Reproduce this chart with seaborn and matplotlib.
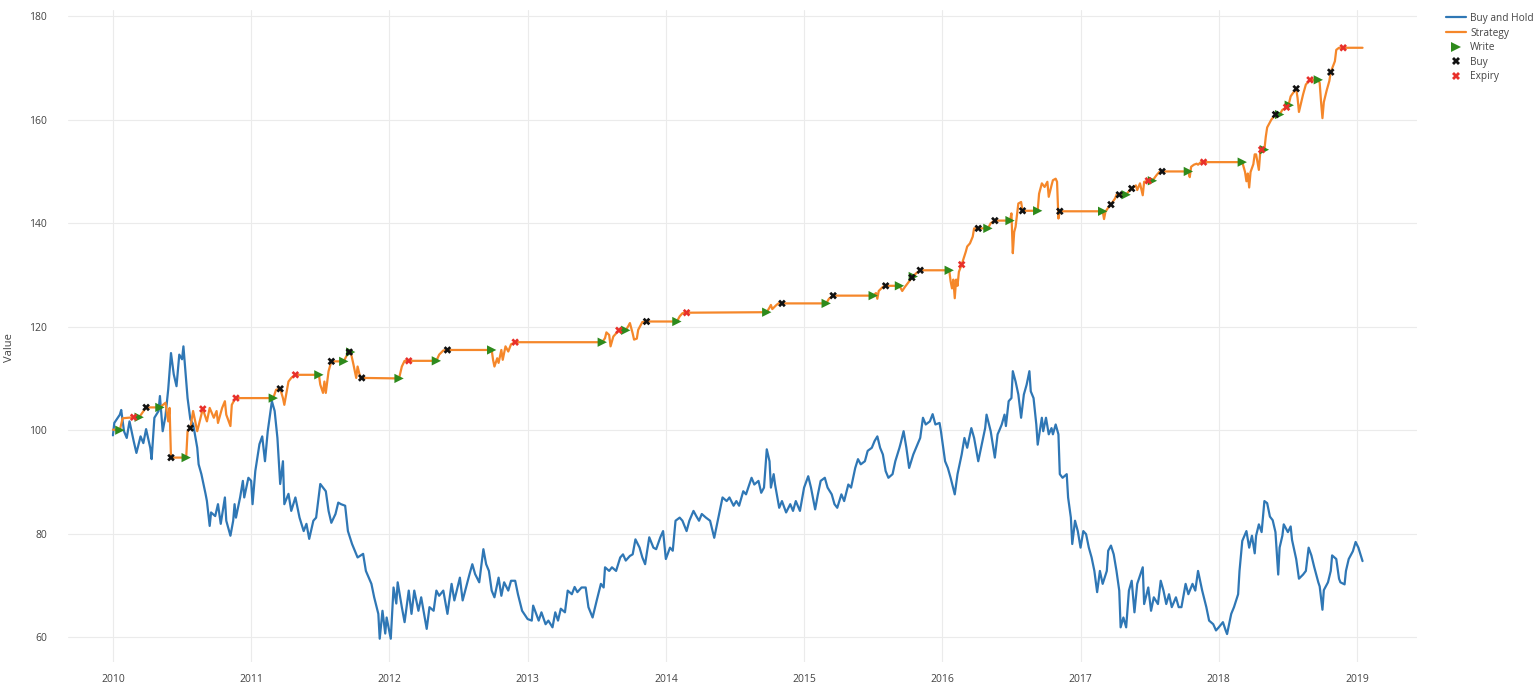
import matplotlib
matplotlib.use("Agg")
import matplotlib.pyplot as plt
import seaborn as sns
import pandas as pd
from matplotlib.lines import Line2D

# ---------------- data ----------------
bh_dates = [
    2010.00, 2010.01, 2010.05, 2010.06, 2010.08, 2010.10, 2010.12, 2010.15, 2010.17, 2010.20,
    2010.22, 2010.24, 2010.27, 2010.28, 2010.30, 2010.33, 2010.34, 2010.36, 2010.38, 2010.40,
    2010.42, 2010.44, 2010.46, 2010.48, 2010.50, 2010.51, 2010.53, 2010.54, 2010.56, 2010.58,
    2010.61, 2010.62, 2010.64, 2010.67, 2010.68, 2010.70, 2010.71, 2010.74, 2010.76, 2010.78,
    2010.81, 2010.82, 2010.85, 2010.87, 2010.88, 2010.89, 2010.92, 2010.94, 2010.95, 2010.98,
    2011.00, 2011.01, 2011.03, 2011.06, 2011.08, 2011.10, 2011.12, 2011.14, 2011.15, 2011.17,
    2011.19, 2011.21, 2011.23, 2011.24, 2011.27, 2011.29, 2011.32, 2011.34, 2011.35, 2011.38,
    2011.40, 2011.42, 2011.45, 2011.47, 2011.50, 2011.52, 2011.54, 2011.56, 2011.58, 2011.61,
    2011.63, 2011.65, 2011.68, 2011.70, 2011.73, 2011.75, 2011.77, 2011.81, 2011.83, 2011.87,
    2011.89, 2011.92, 2011.93, 2011.95, 2011.97, 2011.98, 2012.01,
    2012.03, 2012.05, 2012.06, 2012.09, 2012.11, 2012.14, 2012.16, 2012.18, 2012.21, 2012.23,
    2012.27, 2012.29, 2012.32, 2012.34, 2012.36, 2012.39, 2012.42, 2012.45, 2012.47, 2012.51,
    2012.53, 2012.58, 2012.60, 2012.62, 2012.65, 2012.68, 2012.70, 2012.72, 2012.74, 2012.76,
    2012.79, 2012.81, 2012.83, 2012.86, 2012.88, 2012.91, 2012.93, 2012.96, 2013.00, 2013.03,
    2013.04, 2013.08, 2013.10, 2013.13, 2013.15, 2013.18, 2013.20, 2013.22, 2013.24, 2013.27,
    2013.29, 2013.32, 2013.34, 2013.36, 2013.39, 2013.42, 2013.44, 2013.47, 2013.50, 2013.53,
    2013.55, 2013.56, 2013.59, 2013.61, 2013.64, 2013.67, 2013.69, 2013.71, 2013.74, 2013.76,
    2013.78, 2013.81, 2013.83, 2013.85, 2013.88, 2013.91, 2013.93, 2013.96, 2013.98, 2014.00,
    2014.03, 2014.05, 2014.07, 2014.10, 2014.12, 2014.15, 2014.17, 2014.20, 2014.22, 2014.24,
    2014.26, 2014.29, 2014.32, 2014.35, 2014.39, 2014.41, 2014.44, 2014.46, 2014.49, 2014.51,
    2014.53, 2014.56, 2014.58, 2014.62, 2014.64, 2014.67, 2014.69, 2014.71, 2014.73, 2014.75,
    2014.76, 2014.78, 2014.79, 2014.82, 2014.84, 2014.87, 2014.90, 2014.92, 2014.94, 2014.97,
    2015.00, 2015.03, 2015.05, 2015.08, 2015.10, 2015.12, 2015.15, 2015.17, 2015.20, 2015.22,
    2015.24, 2015.27, 2015.29, 2015.32, 2015.34, 2015.37, 2015.39, 2015.41, 2015.44, 2015.46,
    2015.49, 2015.51, 2015.53, 2015.55, 2015.57, 2015.59, 2015.61, 2015.64, 2015.66, 2015.69,
    2015.70, 2015.72, 2015.74, 2015.76, 2015.79, 2015.81, 2015.84, 2015.86, 2015.88, 2015.91,
    2015.93, 2015.95, 2015.98, 2015.99, 2016.02, 2016.04, 2016.06, 2016.09, 2016.11, 2016.14,
    2016.16, 2016.18, 2016.21, 2016.23, 2016.26, 2016.28, 2016.31, 2016.32, 2016.35, 2016.38,
    2016.40, 2016.41, 2016.43, 2016.45, 2016.46, 2016.48, 2016.50, 2016.51, 2016.53, 2016.55,
    2016.57, 2016.59, 2016.61, 2016.63, 2016.64, 2016.66, 2016.68, 2016.69, 2016.72, 2016.73,
    2016.75, 2016.77, 2016.79, 2016.80, 2016.82, 2016.84, 2016.85, 2016.87, 2016.90, 2016.91,
    2016.93, 2016.94, 2016.96, 2016.98, 2017.00, 2017.02, 2017.04, 2017.06, 2017.08, 2017.10,
    2017.12, 2017.14, 2017.16, 2017.19, 2017.20, 2017.22, 2017.24, 2017.26, 2017.28, 2017.29,
    2017.31, 2017.33, 2017.35, 2017.37, 2017.39, 2017.41, 2017.45, 2017.46, 2017.49, 2017.51,
    2017.53, 2017.56, 2017.58, 2017.60, 2017.62, 2017.64, 2017.66, 2017.69, 2017.71, 2017.73,
    2017.76, 2017.78, 2017.81, 2017.83, 2017.85, 2017.88, 2017.91, 2017.93, 2017.96, 2017.98,
    2018.00, 2018.03, 2018.05, 2018.06, 2018.09, 2018.11, 2018.14, 2018.15, 2018.17, 2018.20,
    2018.22, 2018.24, 2018.26, 2018.27, 2018.29, 2018.31, 2018.33, 2018.35, 2018.37, 2018.39,
    2018.41, 2018.43, 2018.44, 2018.46, 2018.47, 2018.50, 2018.52, 2018.53, 2018.56, 2018.58,
    2018.61, 2018.63, 2018.65, 2018.67, 2018.69, 2018.72, 2018.73, 2018.75, 2018.76, 2018.79,
    2018.81, 2018.82, 2018.85, 2018.87, 2018.88, 2018.91, 2018.92, 2018.94, 2018.97, 2018.99,
    2019.01, 2019.04,
]
bh_values = [
    99.0, 101.4, 103.0, 103.9, 99.8, 98.5, 101.7, 97.9, 95.6, 98.8,
    97.5, 100.2, 96.6, 94.4, 102.4, 103.7, 106.6, 99.8, 102.7, 107.9,
    114.9, 110.8, 108.5, 114.6, 113.7, 116.2, 109.4, 106.2, 102.1, 101.2,
    96.6, 93.4, 91.5, 87.7, 86.3, 81.5, 84.1, 83.4, 85.7, 81.9,
    87.0, 82.5, 79.6, 82.5, 85.7, 83.1, 87.0, 90.2, 87.0, 90.8,
    90.2, 85.7, 92.1, 97.3, 98.8, 94.0, 99.8, 103.7, 105.6, 103.7,
    98.5, 89.6, 94.0, 85.7, 87.7, 84.4, 87.0, 84.4, 83.1, 80.5,
    81.9, 79.0, 82.5, 83.1, 89.6, 88.9, 88.2, 84.4, 82.1, 83.8,
    86.0, 85.7, 85.4, 80.5, 78.0, 76.7, 75.4, 76.1, 72.8, 70.3,
    67.7, 64.5, 59.7, 65.1, 60.7, 63.8, 59.7,
    69.6, 66.5, 70.6, 65.8, 62.9, 69.0, 64.5, 69.0, 65.1, 67.7,
    61.6, 65.8, 65.1, 69.0, 68.0, 69.0, 64.5, 70.3, 67.1, 71.5,
    67.1, 72.2, 74.1, 72.2, 70.6, 77.0, 74.1, 72.8, 69.0, 67.7,
    71.5, 68.0, 70.6, 69.0, 70.9, 70.9, 68.3, 65.1, 63.5, 63.2,
    66.1, 63.2, 64.8, 62.5, 63.2, 61.9, 64.8, 63.2, 65.5, 64.8,
    69.0, 68.3, 69.7, 68.7, 69.6, 69.6, 65.8, 63.8, 67.1, 70.3,
    69.6, 73.5, 72.8, 73.5, 72.8, 75.4, 76.0, 74.8, 75.7, 76.0,
    78.9, 77.3, 75.4, 74.1, 79.3, 77.3, 77.0, 79.3, 80.5, 75.1,
    77.3, 76.7, 82.5, 83.1, 82.5, 80.5, 82.5, 84.4, 83.4, 82.5,
    83.8, 83.1, 82.5, 79.2, 84.4, 87.0, 86.3, 87.0, 85.4, 86.3,
    85.4, 88.2, 87.6, 90.8, 89.5, 90.2, 87.9, 88.9, 96.3, 94.0,
    88.9, 91.5, 89.5, 85.0, 86.3, 84.1, 85.7, 84.4, 86.3, 84.4,
    88.9, 91.1, 88.9, 84.7, 87.6, 90.2, 90.8, 88.9, 87.6, 85.7,
    85.0, 87.6, 86.3, 89.5, 88.9, 92.7, 94.4, 93.4, 94.0, 96.0,
    96.6, 97.9, 98.8, 96.6, 95.3, 92.1, 90.8, 91.5, 94.0, 96.6,
    97.6, 99.8, 96.6, 92.7, 95.3, 96.6, 98.5, 102.4, 101.1, 101.7,
    103.1, 101.1, 101.4, 99.8, 94.0, 92.7, 90.8, 87.6, 91.5, 95.3,
    98.5, 96.6, 100.4, 98.5, 94.0, 96.6, 100.4, 103.0, 99.8, 94.7,
    99.2, 99.8, 101.1, 103.0, 100.8, 105.6, 106.2, 111.4, 109.4, 106.9,
    102.4, 106.9, 108.8, 111.4, 107.5, 106.2, 101.1, 97.2, 102.4, 99.8,
    102.4, 99.2, 100.4, 99.2, 101.1, 99.2, 91.5, 90.8, 91.5, 87.0,
    83.1, 78.0, 82.5, 80.5, 77.3, 80.5, 79.9, 77.3, 75.4, 72.8,
    68.7, 72.8, 70.3, 72.8, 76.7, 77.7, 76.0, 72.8, 69.0, 61.9,
    63.8, 61.9, 69.0, 70.9, 64.8, 70.3, 73.5, 66.4, 69.6, 65.1,
    67.7, 66.4, 70.9, 69.0, 66.4, 68.3, 65.8, 67.7, 65.8, 65.8,
    70.3, 68.3, 70.3, 69.0, 72.8, 69.0, 65.8, 63.2, 62.5, 61.3,
    61.9, 62.9, 61.3, 60.6, 64.5, 65.8, 68.3, 72.8, 78.6, 80.5,
    77.3, 79.6, 76.2, 79.6, 81.8, 80.3, 86.3, 85.9, 83.3, 82.6,
    80.3, 72.1, 77.3, 79.6, 81.8, 80.3, 81.4, 78.8, 75.1, 71.3,
    72.1, 72.8, 77.3, 75.8, 73.6, 70.6, 69.8, 65.3, 69.1, 70.6,
    72.8, 75.8, 75.1, 71.3, 70.6, 70.2, 72.8, 75.1, 76.6, 78.4,
    77.3, 74.7,
]

st_dates = [
    2010.00, 2010.05, 2010.07, 2010.15, 2010.19, 2010.24, 2010.34, 2010.38, 2010.40, 2010.41,
    2010.42, 2010.53, 2010.54, 2010.56, 2010.58, 2010.61, 2010.65, 2010.68, 2010.70, 2010.73,
    2010.75, 2010.76, 2010.79, 2010.81, 2010.82, 2010.85, 2010.86, 2010.88, 2010.89, 2011.16,
    2011.18, 2011.21, 2011.23, 2011.24, 2011.27, 2011.29, 2011.32, 2011.49, 2011.50, 2011.52,
    2011.53, 2011.54, 2011.56, 2011.58, 2011.67, 2011.70, 2011.71, 2011.72, 2011.74, 2011.76,
    2011.77, 2011.79, 2011.80, 2012.07, 2012.09, 2012.11, 2012.14, 2012.34, 2012.36, 2012.39,
    2012.42, 2012.74, 2012.75, 2012.76, 2012.78, 2012.79, 2012.81, 2012.82, 2012.84, 2012.86,
    2012.88, 2012.91, 2013.54, 2013.56, 2013.57, 2013.59, 2013.60, 2013.62, 2013.64, 2013.66,
    2013.71, 2013.73, 2013.74, 2013.76, 2013.77, 2013.79, 2013.80, 2013.82, 2013.83, 2013.86,
    2014.08, 2014.10, 2014.12, 2014.15, 2014.73, 2014.75, 2014.76, 2014.77, 2014.80, 2014.82,
    2014.84, 2015.16, 2015.18, 2015.21, 2015.50, 2015.52, 2015.53, 2015.54, 2015.57, 2015.59,
    2015.69, 2015.70, 2015.71, 2015.73, 2015.75, 2015.78, 2015.81, 2015.84, 2016.05, 2016.06,
    2016.07, 2016.08, 2016.09, 2016.10, 2016.11, 2016.12, 2016.14, 2016.17, 2016.18, 2016.20,
    2016.22, 2016.23, 2016.26, 2016.33, 2016.35, 2016.38, 2016.49, 2016.50, 2016.51, 2016.52,
    2016.53, 2016.55, 2016.57, 2016.58, 2016.69, 2016.70, 2016.72, 2016.74, 2016.76, 2016.77,
    2016.79, 2016.80, 2016.82, 2016.83, 2016.84, 2016.85, 2017.16, 2017.17, 2017.18, 2017.20,
    2017.22, 2017.25, 2017.26, 2017.28, 2017.33, 2017.35, 2017.37, 2017.40, 2017.41, 2017.43,
    2017.45, 2017.46, 2017.49, 2017.52, 2017.55, 2017.57, 2017.59, 2017.78, 2017.79, 2017.80,
    2017.82, 2017.84, 2017.85, 2017.87, 2017.89, 2018.17, 2018.19, 2018.20, 2018.21, 2018.22,
    2018.23, 2018.25, 2018.26, 2018.27, 2018.29, 2018.30, 2018.31, 2018.33, 2018.34, 2018.35,
    2018.38, 2018.41, 2018.44, 2018.46, 2018.49, 2018.51, 2018.52, 2018.53, 2018.56, 2018.57,
    2018.58, 2018.60, 2018.61, 2018.63, 2018.66, 2018.72, 2018.73, 2018.74, 2018.75, 2018.76,
    2018.78, 2018.80, 2018.81, 2018.84, 2018.85, 2018.87, 2018.90, 2019.04,
]
st_values = [
    100.1, 100.0, 102.3, 102.5, 102.5, 104.4, 104.4, 105.3, 101.7, 104.3,
    94.7, 94.7, 99.8, 100.4, 103.7, 99.8, 104.1, 101.7, 104.3, 102.4,
    103.7, 101.4, 104.3, 105.6, 103.0, 100.8, 104.9, 105.9, 106.2, 106.2,
    107.8, 108.0, 106.2, 104.9, 109.4, 110.1, 110.7, 110.7, 108.8, 107.2,
    109.4, 107.2, 111.4, 113.3, 113.3, 114.9, 115.1, 115.1, 112.7, 110.1,
    112.3, 110.1, 110.1, 110.0, 112.3, 113.4, 113.4, 113.4, 114.6, 115.4,
    115.5, 115.5, 113.6, 112.3, 113.9, 113.0, 115.5, 113.6, 116.2, 115.2,
    116.6, 117.0, 117.0, 117.8, 118.9, 118.4, 116.2, 118.1, 118.7, 119.3,
    119.3, 120.2, 120.7, 118.7, 117.5, 117.7, 119.4, 120.4, 120.9, 121.0,
    121.0, 122.0, 122.6, 122.7, 122.8, 123.7, 124.2, 123.4, 124.2, 124.6,
    124.5, 124.5, 125.4, 126.0, 126.0, 126.5, 125.4, 126.9, 127.7, 127.9,
    127.9, 127.4, 126.9, 127.7, 128.4, 129.5, 130.3, 130.9, 130.9, 128.8,
    127.4, 129.1, 125.5, 129.1, 127.9, 130.6, 132.0, 134.5, 135.5, 136.1,
    137.4, 139.0, 139.0, 139.0, 140.0, 140.5, 140.5, 141.9, 134.2, 138.3,
    139.3, 143.8, 144.1, 142.4, 142.4, 145.7, 147.7, 147.0, 148.0, 145.1,
    147.3, 148.3, 148.6, 148.0, 140.9, 142.3, 142.3, 140.8, 142.2, 143.0,
    143.6, 144.8, 145.5, 145.5, 145.5, 146.2, 146.7, 147.3, 146.4, 147.7,
    145.4, 148.0, 148.2, 148.2, 149.3, 149.9, 150.0, 150.0, 148.9, 150.9,
    151.3, 151.5, 151.3, 151.8, 151.8, 151.8, 149.9, 148.1, 149.6, 146.9,
    149.9, 151.4, 153.3, 153.3, 150.3, 153.7, 154.2, 154.2, 156.7, 158.5,
    160.0, 161.0, 161.0, 161.9, 162.4, 163.4, 164.5, 164.9, 166.0, 164.2,
    161.5, 163.8, 164.9, 166.8, 167.7, 167.7, 167.1, 163.4, 160.3, 163.4,
    165.6, 167.5, 169.2, 171.3, 173.5, 173.9, 173.9, 173.9,
]

write_dates = [2010.05, 2010.19, 2010.34, 2010.53, 2011.16, 2011.49, 2011.67, 2011.72, 2012.07,
               2012.34, 2012.74, 2013.54, 2013.71, 2014.08, 2014.73, 2015.16, 2015.50, 2015.69,
               2015.79, 2016.05, 2016.33, 2016.49, 2016.69, 2017.16, 2017.33, 2017.52, 2017.78,
               2018.17, 2018.33, 2018.44, 2018.51, 2018.72]
write_values = [100.0, 102.5, 104.4, 94.7, 106.2, 110.7, 113.3, 115.1, 110.0,
                113.4, 115.5, 117.0, 119.3, 121.0, 122.8, 124.5, 126.0, 127.9,
                129.7, 130.9, 139.0, 140.5, 142.4, 142.3, 145.5, 148.2, 150.0,
                151.8, 154.2, 161.0, 162.8, 167.7]

buy_dates = [2010.24, 2010.42, 2010.56, 2011.21, 2011.58, 2011.71, 2011.80, 2012.42, 2013.86,
             2014.84, 2015.21, 2015.59, 2015.78, 2015.84, 2016.26, 2016.38, 2016.58, 2016.85,
             2017.22, 2017.28, 2017.37, 2017.59, 2018.41, 2018.56, 2018.81]
buy_values = [104.4, 94.7, 100.4, 108.0, 113.3, 115.1, 110.1, 115.5, 121.0,
              124.5, 126.0, 127.9, 129.5, 130.9, 139.0, 140.5, 142.4, 142.3,
              143.6, 145.5, 146.7, 150.0, 161.0, 166.0, 169.2]

expiry_dates = [2010.15, 2010.65, 2010.89, 2011.32, 2012.14, 2012.91, 2013.66, 2014.15, 2016.14,
                2017.49, 2017.89, 2018.31, 2018.49, 2018.66, 2018.90]
expiry_values = [102.5, 104.1, 106.2, 110.7, 113.4, 117.0, 119.3, 122.7, 132.0,
                 148.2, 151.8, 154.2, 162.4, 167.7, 173.9]

x_ticks = [2010, 2011, 2012, 2013, 2014, 2015, 2016, 2017, 2018, 2019]
y_ticks = [60, 80, 100, 120, 140, 160, 180]

# ---------------- style ----------------
sns.set_style("white")
plt.rcParams["font.family"] = ["Open Sans", "DejaVu Sans"]

C_BH = "#2f77b5"
C_ST = "#f5872a"
C_WRITE = "#2e8a1c"
C_BUY = "#111111"
C_EXP = "#e8302a"
TXT = "#444444"

fig = plt.figure(figsize=(15.33, 6.86), dpi=100)
ax = fig.add_axes([68 / 1533, 1 - 662 / 686, (1417 - 68) / 1533, (662 - 10) / 686])

bh = pd.DataFrame({"date": bh_dates, "value": bh_values})
st = pd.DataFrame({"date": st_dates, "value": st_values})

sns.lineplot(data=bh, x="date", y="value", ax=ax, color=C_BH, linewidth=1.6,
             estimator=None, sort=False, zorder=3)
sns.lineplot(data=st, x="date", y="value", ax=ax, color=C_ST, linewidth=1.6,
             estimator=None, sort=False, zorder=4)
sns.scatterplot(x=write_dates, y=write_values, ax=ax, marker=">", s=45, color=C_WRITE,
                edgecolor="none", zorder=5)
sns.scatterplot(x=buy_dates, y=buy_values, ax=ax, marker="X", s=30, color=C_BUY,
                edgecolor="none", zorder=6)
sns.scatterplot(x=expiry_dates, y=expiry_values, ax=ax, marker="X", s=30, color=C_EXP,
                edgecolor="none", zorder=6)

ax.set_xlim(2009.675, 2019.434)
ax.set_ylim(55.2, 181.2)
ax.set_xticks(x_ticks)
ax.set_xticklabels([str(t) for t in x_ticks])
ax.set_yticks(y_ticks)
ax.set_yticklabels([str(t) for t in y_ticks])
ax.grid(True, color="#ebebeb", linewidth=0.8)
ax.set_axisbelow(True)
for s in ax.spines.values():
    s.set_visible(False)
ax.tick_params(axis="both", length=0, labelsize=7.5, colors=TXT)
ax.tick_params(axis="x", pad=9)
ax.tick_params(axis="y", pad=15)
ax.set_xlabel("")
ax.set_ylabel("Value", fontsize=8, color=TXT)
ax.yaxis.set_label_coords(-0.039, 0.483)

handles = [
    Line2D([0], [0], color=C_BH, lw=1.6),
    Line2D([0], [0], color=C_ST, lw=1.6),
    Line2D([0], [0], color=C_WRITE, marker=">", linestyle="none", markersize=6.5, markeredgewidth=0),
    Line2D([0], [0], color=C_BUY, marker="X", linestyle="none", markersize=5.5, markeredgewidth=0),
    Line2D([0], [0], color=C_EXP, marker="X", linestyle="none", markersize=5.5, markeredgewidth=0),
]
labels = ["Buy and Hold", "Strategy", "Write", "Buy", "Expiry"]
fig.legend(handles, labels, loc="upper left", bbox_to_anchor=(1446 / 1533, 1 - 13 / 686),
           frameon=False, fontsize=7.3, handlelength=2.0, handletextpad=0.4,
           labelspacing=0.35, labelcolor=TXT, borderaxespad=0, borderpad=0)

fig.savefig("out.png", dpi=100, facecolor="white")
